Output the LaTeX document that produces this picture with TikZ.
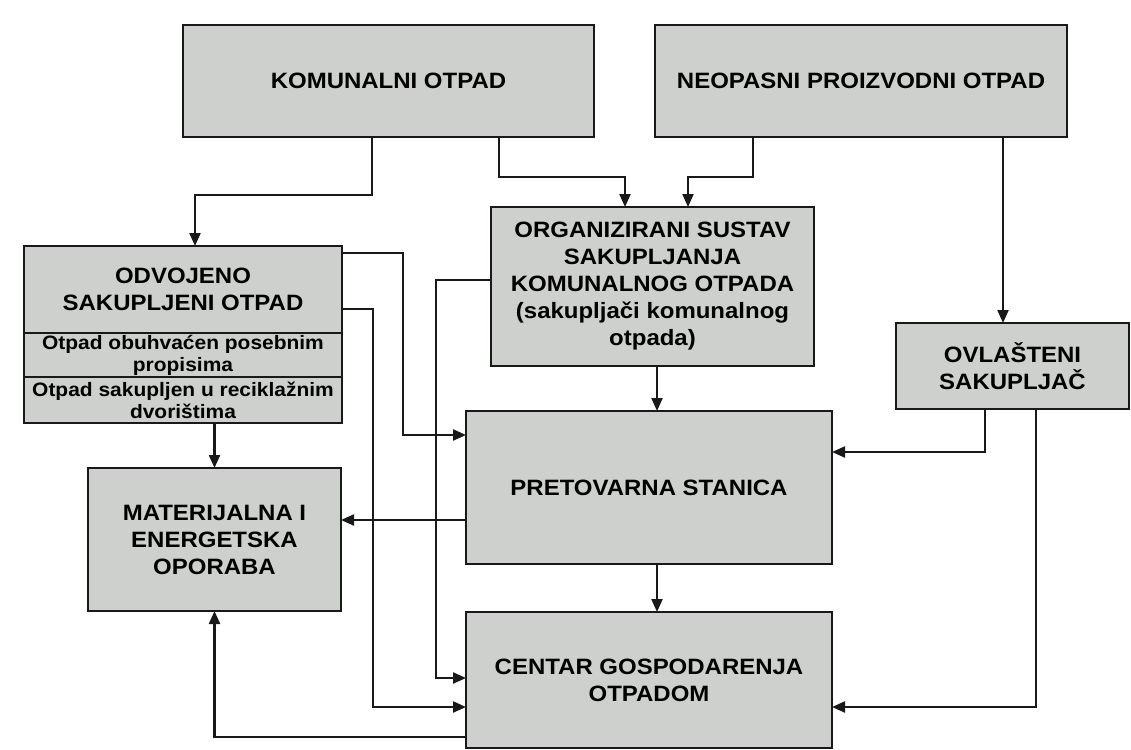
\documentclass[tikz,border=0pt]{standalone}
\usepackage{fontspec}
\setmainfont{Liberation Sans}[FakeStretch=1.08]
\usetikzlibrary{arrows.meta}
\definecolor{boxfill}{RGB}{205,208,204}
\definecolor{linec}{RGB}{25,25,25}
\begin{document}
\begin{tikzpicture}[x=1pt,y=-1pt,
  box/.style={draw=linec, fill=boxfill, line width=2.5pt, inner sep=0pt, outer sep=0pt,
    align=center, text=black, font=\fontsize{22.2}{27}\selectfont\bfseries},
  smallbox/.style={box, font=\fontsize{19.4}{22}\selectfont\bfseries},
  arr/.style={draw=linec, line width=2.2pt, -{Triangle[length=13pt,width=11pt]}}]
\useasboundingbox (0,0) rectangle (1131,749);
\fill[white] (0,0) rectangle (1131,749);

\node[box, minimum width=411, minimum height=112] (kom) at (388.5,81) {KOMUNALNI OTPAD};
\node[box, minimum width=412, minimum height=112] (neo) at (861,81) {NEOPASNI PROIZVODNI OTPAD};
\node[box, minimum width=323, minimum height=159] (org) at (652.5,286.5)
  {ORGANIZIRANI SUSTAV\\SAKUPLJANJA\\KOMUNALNOG OTPADA\\(sakupljači komunalnog\\otpada)};
\node[box, minimum width=318, minimum height=87] (odvA) at (183,289.5) {ODVOJENO\\SAKUPLJENI OTPAD};
\node[smallbox, minimum width=318, minimum height=44] (odvB) at (183,355) {Otpad obuhvaćen posebnim\\propisima};
\node[smallbox, minimum width=318, minimum height=46] (odvC) at (183,400) {Otpad sakupljen u reciklažnim\\dvorištima};
\node[box, minimum width=253, minimum height=143] (mat) at (214.5,539.5) {MATERIJALNA I\\ENERGETSKA\\OPORABA};
\node[box, minimum width=366, minimum height=153] (pret) at (649,487.5) {PRETOVARNA STANICA};
\node[box, minimum width=366, minimum height=136] (cen) at (649,680) {CENTAR GOSPODARENJA\\OTPADOM};
\node[box, minimum width=233, minimum height=86] (ovl) at (1012.5,366) {OVLAŠTENI\\SAKUPLJAČ};

% connectors
\draw[arr] ([xshift=-16.5]kom.south) -- ++(0,58) -| ([xshift=12]odvA.north);
\draw[arr] ([xshift=110.5]kom.south) -- ++(0,40) -| ([xshift=-27.5]org.north);
\draw[arr] ([xshift=-108]neo.south) -- ++(0,40) -| ([xshift=35.5]org.north);
\draw[arr] ([xshift=142]neo.south) -- ([xshift=-9.5]ovl.north);
\draw[arr] ([yshift=36.5]odvA.east) -- ++(61,0) |- ([yshift=52.5]pret.west);
\draw[arr] ([yshift=-19.5]odvA.east) -- ++(31,0) |- ([yshift=-27]cen.west);
\draw[arr] ([yshift=6.5]org.west) -- ++(-55,0) |- ([yshift=2]cen.west);
\draw[arr] ([xshift=4.5]org.south) -- ([xshift=8]pret.north);
\draw[arr] ([xshift=-27.5]ovl.south) |- ([yshift=35.5]pret.east);
\draw[arr] ([xshift=23.5]ovl.south) |- ([yshift=-27]cen.east);
\draw[arr] ([yshift=-32.5]pret.west) -- ([yshift=19.5]mat.east);
\draw[arr] ([xshift=8]pret.south) -- ([xshift=8]cen.north);
\draw[arr] (odvC.south -| mat.north) -- (mat.north);
\draw[arr] ([yshift=-57]cen.west) -| (mat.south);
\end{tikzpicture}
\end{document}
